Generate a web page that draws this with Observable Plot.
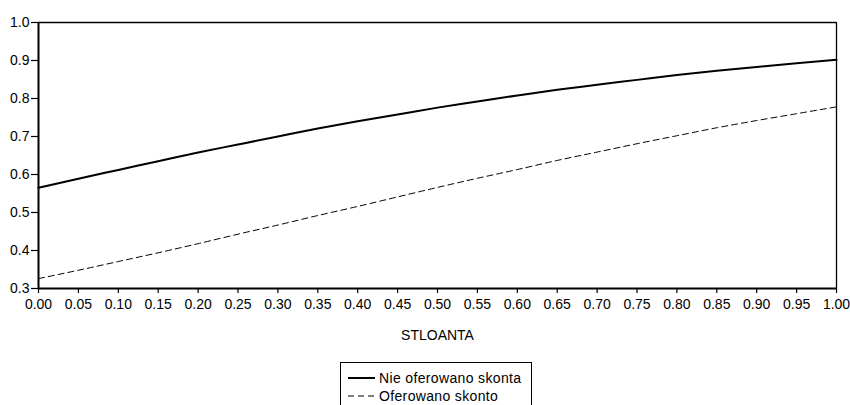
<!DOCTYPE html>
<html>
<head>
<meta charset="utf-8">
<script src="https://cdn.jsdelivr.net/npm/d3@7"></script>
<script src="https://cdn.jsdelivr.net/npm/@observablehq/plot@0.6"></script>
<style>
  html, body { margin: 0; padding: 0; background: #fff; }
  #wrap { position: relative; width: 850px; height: 405px; overflow: hidden; font-family: "Liberation Sans", Arial, sans-serif; }
  #legend { position: absolute; left: 340px; top: 362px; width: 192px; height: 60px; border: 1px solid #000; box-sizing: border-box; background: #fff; }
  .row { position: absolute; left: 0; height: 18px; display: flex; align-items: center; font-size: 14px; letter-spacing: 0.35px; color: #000; white-space: nowrap; }
  .row svg { margin-left: 7px; margin-right: 4px; }
</style>
</head>
<body>
<div id="wrap">
  <div id="chart"></div>
  <div id="legend">
    <div class="row" style="top:6px"><svg width="27" height="4"><line x1="0" y1="2" x2="27" y2="2" stroke="#000" stroke-width="2"/></svg><span id="l1"></span></div>
    <div class="row" style="top:24px"><svg width="27" height="4"><line x1="0" y1="2" x2="27" y2="2" stroke="#000" stroke-width="1" stroke-dasharray="6,4"/></svg><span id="l2"></span></div>
  </div>
</div>
<script>
const xValues = [0.00,0.05,0.10,0.15,0.20,0.25,0.30,0.35,0.40,0.45,0.50,0.55,0.60,0.65,0.70,0.75,0.80,0.85,0.90,0.95,1.00];
const nieOferowano = [0.565,0.589,0.612,0.635,0.658,0.679,0.700,0.721,0.740,0.758,0.776,0.792,0.808,0.823,0.836,0.849,0.862,0.873,0.883,0.893,0.902];
const oferowano = [0.326,0.348,0.371,0.394,0.418,0.443,0.467,0.492,0.516,0.541,0.566,0.590,0.613,0.637,0.659,0.681,0.702,0.723,0.742,0.760,0.778];
const seriesNames = ["Nie oferowano skonta", "Oferowano skonto"];
const xTicks = [0.00,0.05,0.10,0.15,0.20,0.25,0.30,0.35,0.40,0.45,0.50,0.55,0.60,0.65,0.70,0.75,0.80,0.85,0.90,0.95,1.00];
const yTicks = [0.3,0.4,0.5,0.6,0.7,0.8,0.9,1.0];
const xLabel = "STLOANTA";

const solid = xValues.map((x, i) => ({x, y: nieOferowano[i]}));
const dashed = xValues.map((x, i) => ({x, y: oferowano[i]}));

const chart = Plot.plot({
  width: 850,
  height: 345,
  marginLeft: 38,
  marginRight: 14,
  marginTop: 22,
  marginBottom: 57,
  style: { fontFamily: "'Liberation Sans', Arial, sans-serif", fontSize: "14px", color: "#000", background: "#fff" },
  x: { domain: [0, 1] },
  y: { domain: [0.3, 1.0] },
  marks: [
    Plot.ruleY([1.0], { stroke: "#000", strokeWidth: 1.3 }),
    Plot.ruleX([1.0], { stroke: "#000", strokeWidth: 1.3 }),
    Plot.axisY({ ticks: yTicks, tickFormat: d3.format(".1f"), tickSize: 7, tickPadding: 2, label: null, strokeWidth: 1.2 }),
    Plot.axisX({ ticks: xTicks, tickFormat: d3.format(".2f"), tickSize: 5, tickPadding: 6, label: xLabel, labelAnchor: "center", labelArrow: "none", labelOffset: 51, strokeWidth: 1.2 }),
    Plot.ruleX([0], { stroke: "#000", strokeWidth: 2 }),
    Plot.ruleY([0.3], { stroke: "#000", strokeWidth: 2 }),
    Plot.line(solid, { x: "x", y: "y", stroke: "#000", strokeWidth: 2, curve: "monotone-x" }),
    Plot.line(dashed, { x: "x", y: "y", stroke: "#000", strokeWidth: 1, strokeDasharray: "6,4", curve: "monotone-x" })
  ]
});
document.getElementById("chart").appendChild(chart);
document.getElementById("l1").textContent = seriesNames[0];
document.getElementById("l2").textContent = seriesNames[1];
</script>
</body>
</html>
